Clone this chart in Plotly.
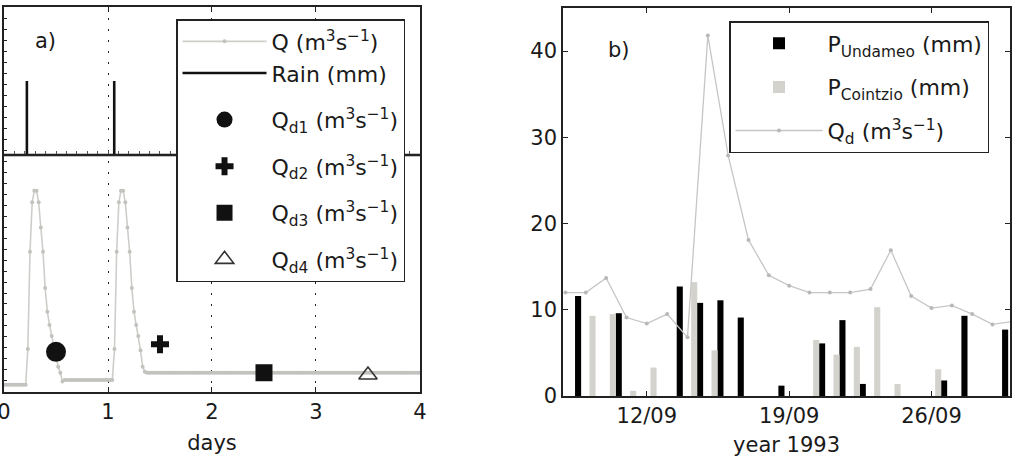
import plotly.graph_objects as go

# ---------------- Panel a) data ----------------
# discharge Q sampled every 30 min over 4 days (193 samples)
Q_VALUES = [
    0.13, 0.13, 0.13, 0.13, 0.13, 0.13, 0.13, 0.13, 0.13, 0.13, 0.13,
    0.78, 2.55, 3.45, 3.66, 3.66, 3.45, 2.99, 2.55, 1.89, 1.46, 1.22, 1.02, 0.80, 0.62, 0.46, 0.35, 0.19,
    0.22, 0.22, 0.22, 0.22, 0.22, 0.22, 0.22, 0.22, 0.22, 0.22, 0.22, 0.22,
    0.22, 0.22, 0.22, 0.22, 0.22, 0.22, 0.22, 0.22, 0.22, 0.22, 0.22,
    0.78, 2.55, 3.45, 3.66, 3.66, 3.45, 2.99, 2.55, 1.89, 1.46, 1.22, 1.02, 0.76, 0.46, 0.37,
    0.35, 0.35, 0.35, 0.35, 0.35, 0.35, 0.35, 0.35, 0.35, 0.35, 0.35, 0.35, 0.35, 0.35, 0.35, 0.35,
    0.35, 0.35, 0.35, 0.35, 0.35, 0.35, 0.35, 0.35, 0.35, 0.35, 0.35, 0.35, 0.35, 0.35, 0.35, 0.35,
    0.35, 0.35, 0.35, 0.35, 0.35, 0.35, 0.35, 0.35, 0.35, 0.35, 0.35, 0.35, 0.35, 0.35, 0.35, 0.35,
    0.35, 0.35, 0.35, 0.35, 0.35, 0.35, 0.35, 0.35, 0.35, 0.35, 0.35, 0.35, 0.35, 0.35, 0.35, 0.35,
    0.35, 0.35, 0.35, 0.35, 0.35, 0.35, 0.35, 0.35, 0.35, 0.35, 0.35, 0.35, 0.35, 0.35, 0.35, 0.35,
    0.35, 0.35, 0.35, 0.35, 0.35, 0.35, 0.35, 0.35, 0.35, 0.35, 0.35, 0.35, 0.35, 0.35, 0.35, 0.35,
    0.35, 0.35, 0.35, 0.35, 0.35, 0.35, 0.35, 0.35, 0.35, 0.35, 0.35, 0.35, 0.35, 0.35, 0.35, 0.35,
    0.35, 0.35, 0.35, 0.35, 0.35, 0.35, 0.35, 0.35, 0.35, 0.35, 0.35, 0.35, 0.35, 0.35, 0.35,
]
Q_TIME = [i / 48 for i in range(len(Q_VALUES))]  # days

RAIN_TIME = [0.0, 0.22, 0.22, 0.22, 1.06, 1.06, 1.06, 4.0]
RAIN_MM = [0, 0, 10, 0, 0, 10, 0, 0]

QD_TIME = [0.5, 1.5, 2.5, 3.5]
QD_VALUES = [0.73, 0.87, 0.35, 0.31]
QD_NAMES = ["Q<sub>d1</sub> (m<sup>3</sup>s<sup>\u22121</sup>)",
            "Q<sub>d2</sub> (m<sup>3</sup>s<sup>\u22121</sup>)",
            "Q<sub>d3</sub> (m<sup>3</sup>s<sup>\u22121</sup>)",
            "Q<sub>d4</sub> (m<sup>3</sup>s<sup>\u22121</sup>)"]
QD_SYMBOLS = ["circle", "cross", "square", "triangle-up-open"]
QD_SIZES = [20, 15, 17, 16]

X_TICKS_A = [0, 1, 2, 3, 4]

# ---------------- Panel b) data ----------------
BAR_DAYS = [8, 9, 10, 11, 12, 13, 14, 15, 16, 17, 18, 19, 20, 21, 22, 23, 24, 25, 26, 27, 28, 29]
P_UNDAMEO = [11.6, 0, 9.6, 0, 0, 12.7, 10.8, 11.1, 9.1, 0, 1.2, 0, 6.1, 8.8, 1.4, 0, 0, 0, 1.8, 9.3, 0, 7.7]
P_COINTZIO = [0, 9.3, 9.5, 0.6, 3.3, 0, 13.2, 5.3, 0, 0, 0, 0, 6.5, 4.8, 5.7, 10.3, 1.4, 0, 3.1, 0, 0, 0]

QD_DAYS = [8, 9, 10, 11, 12, 13, 14, 15, 16, 17, 18, 19, 20, 21, 22, 23, 24, 25, 26, 27, 28, 29, 30]
QD_DAILY = [12.0, 12.0, 13.7, 9.1, 8.4, 9.5, 6.8, 41.8, 27.9, 18.1, 14.0, 12.8, 12.0, 12.0, 12.0,
            12.4, 16.9, 11.6, 10.2, 10.5, 9.5, 8.3, 8.65]

X_TICKS_B = [12, 19, 26]
X_TICKTEXT_B = ["12/09", "19/09", "26/09"]
Y_TICKS_B = [0, 10, 20, 30, 40]

# ---------------- styling ----------------
FONT = "DejaVu Sans"
FS = 21
LFS = 22
AX = "#222222"
QGRAY = "#cdcdc9"
BARGRAY = "#d4d2cc"

fig = go.Figure()

# panel a traces
fig.add_trace(go.Scatter(
    x=Q_TIME, y=Q_VALUES, mode="lines+markers", name="Q (m<sup>3</sup>s<sup>\u22121</sup>)",
    line=dict(color=QGRAY, width=1.6), marker=dict(size=4, color="#c2c2be"),
    xaxis="x", yaxis="y", legend="legend", legendgroup="g0"))
fig.add_trace(go.Scatter(
    x=RAIN_TIME, y=RAIN_MM, mode="lines", name="Rain (mm)",
    line=dict(color="#111111", width=2.6),
    xaxis="x3", yaxis="y2", legend="legend", legendgroup="g0"))
for i in range(len(QD_TIME)):
    open_sym = QD_SYMBOLS[i].endswith("open")
    fig.add_trace(go.Scatter(
        x=[QD_TIME[i]], y=[QD_VALUES[i]], mode="markers", name=QD_NAMES[i],
        marker=dict(symbol=QD_SYMBOLS[i], size=QD_SIZES[i], color="#111111" if not open_sym else "#333333",
                    line=dict(width=1.6 if open_sym else 0, color="#333333")),
        xaxis="x", yaxis="y", legend="legend", legendgroup="g%d" % (i + 1)))

# panel b traces
fig.add_trace(go.Bar(
    x=BAR_DAYS, y=P_UNDAMEO, name="P<sub>Undameo</sub> (mm)",
    marker=dict(color="#000000", line=dict(width=0)), offset=0.47, width=0.3,
    xaxis="x2", yaxis="y3", legend="legend2", legendgroup="b1"))
fig.add_trace(go.Bar(
    x=BAR_DAYS, y=P_COINTZIO, name="P<sub>Cointzio</sub> (mm)",
    marker=dict(color=BARGRAY, line=dict(width=0)), offset=0.18, width=0.3,
    xaxis="x2", yaxis="y3", legend="legend2", legendgroup="b2"))
fig.add_trace(go.Scatter(
    x=QD_DAYS, y=QD_DAILY, mode="lines+markers", name="Q<sub>d</sub> (m<sup>3</sup>s<sup>\u22121</sup>)",
    line=dict(color="#c6c6c6", width=1.3), marker=dict(size=4, color="#b8b8b8"),
    xaxis="x2", yaxis="y3", legend="legend2", legendgroup="b3", cliponaxis=True))

axis_common = dict(showline=True, linecolor=AX, linewidth=1.5, ticks="inside", tickcolor=AX,
                   zeroline=False, automargin=False,
                   tickfont=dict(family=FONT, size=FS, color="#1a1a1a"))

fig.update_layout(
    width=1018, height=458,
    margin=dict(l=4, r=8, t=7, b=62, autoexpand=False),
    paper_bgcolor="white", plot_bgcolor="white",
    font=dict(family=FONT, size=FS, color="#1a1a1a"),
    barmode="overlay",
    showlegend=True,
    xaxis=dict(domain=[0, 0.4135], range=[0, 4], anchor="y", tickvals=X_TICKS_A, ticklen=5,
               mirror="ticks", showgrid=True, gridcolor=AX, gridwidth=1.2, griddash="2px,9px",
               ticklabeloverflow="allow",
               title=dict(text="days", standoff=12, font=dict(family=FONT, size=FS)), **axis_common),
    yaxis=dict(domain=[0.0103, 1], range=[0, 7], anchor="x", dtick=0.2, tick0=0, ticklen=3,
               showticklabels=False, mirror=True, showgrid=False, **axis_common),
    yaxis2=dict(overlaying="y", range=[-32.03, 20], visible=False),
    xaxis3=dict(overlaying="x", anchor="free", position=0.6195, range=[0, 4], dtick=0.1, tick0=0,
                ticklen=3, showticklabels=False, showgrid=False, showline=True, linecolor=AX,
                linewidth=1.5, ticks="inside", tickcolor="#555555", zeroline=False, automargin=False),
    xaxis2=dict(domain=[0.5557, 1], range=[7.88, 29.86], anchor="y3", tickvals=X_TICKS_B,
                ticktext=X_TICKTEXT_B, ticklen=5, mirror="ticks", showgrid=False,
                title=dict(text="year 1993", standoff=10, font=dict(family=FONT, size=FS)), **axis_common),
    yaxis3=dict(domain=[0, 0.9974], range=[0, 45], anchor="x2", tickvals=Y_TICKS_B, ticklen=5,
                mirror="ticks", showgrid=False, **axis_common),
    legend=dict(x=0.171, y=0.969, xanchor="left", yanchor="top", bordercolor=AX, borderwidth=1.5,
                bgcolor="white", itemwidth=84, traceorder="grouped", tracegroupgap=15,
                font=dict(family=FONT, size=LFS)),
    legend2=dict(x=0.7207, y=0.964, xanchor="left", yanchor="top", bordercolor=AX, borderwidth=1.5,
                 bgcolor="white", itemwidth=87, traceorder="grouped", tracegroupgap=12,
                 font=dict(family=FONT, size=LFS)),
    annotations=[
        dict(text="a)", xref="paper", yref="paper", x=0.0417, y=0.913, xanchor="center",
             yanchor="middle", showarrow=False, font=dict(family=FONT, size=FS)),
        dict(text="b)", xref="paper", yref="paper", x=0.611, y=0.889, xanchor="center",
             yanchor="middle", showarrow=False, font=dict(family=FONT, size=FS)),
    ],
)

fig.write_html("out.html")
